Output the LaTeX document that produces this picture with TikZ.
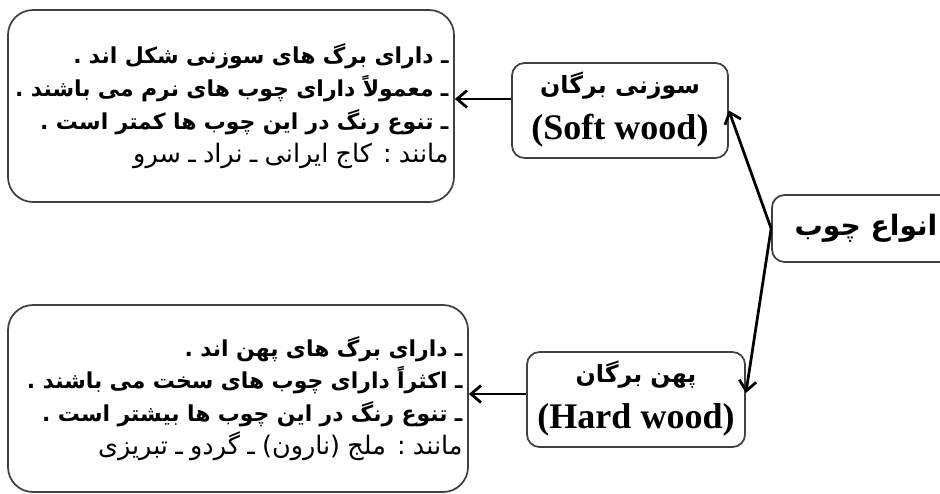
\documentclass[tikz,border=0pt]{standalone}
\usepackage{fontspec}
\setmainfont{Liberation Serif}
\newfontfamily\arabicfont[Script=Arabic]{DejaVu Sans}
\TeXXeTstate=1
\usetikzlibrary{arrows.meta}
\usetikzlibrary{calc}

\begin{document}
\begin{tikzpicture}[auto]
        \useasboundingbox (0,0) rectangle (18.8,-9.86);
        \tikzset{>={Straight Barb[length=0.2cm,width=0.34cm]}}
        \tikzstyle{every path}=[->,line width=0.055cm]
        \tikzstyle{every node}=[rectangle,fill=white,draw=black!75,text=black,line width=0.035cm,rounded corners=0.25cm,inner sep=1.5pt]
        \tikzset{listbox/.style={rounded corners=0.5cm, align=right, inner xsep=0.11cm,
          font=\arabicfont\bfseries\fontsize{12.5}{18.7}\selectfont}}
        \tikzset{kindbox/.style={align=center, font=\fontsize{20.5}{26}\selectfont}}

        \node [minimum width=3.76cm, minimum height=1.34cm, font=\arabicfont\bfseries\fontsize{16}{20}\selectfont] (n0) at (17.32,-4.57) {\beginR انواع چوب\endR};
        \node [kindbox, minimum width=4.32cm, minimum height=1.9cm, text depth=0.2cm] (n1) at (12.4,-2.21)
          {{\arabicfont\bfseries\fontsize{13.5}{26}\selectfont\beginR سوزنی برگان\endR}\\{\bfseries (Soft wood)}};
        \node [kindbox, minimum width=4.36cm, minimum height=1.9cm, text depth=0.2cm] (n2) at (12.72,-7.99)
          {{\arabicfont\bfseries\fontsize{13.5}{26}\selectfont\beginR پهن برگان\endR}\\{\bfseries (Hard wood)}};

        % left boxes
        \node [listbox, text width=8.7cm, minimum height=3.84cm] (n3) at (4.62,-2.12) {%
          \beginR ـ دارای برگ های سوزنی شکل اند .\endR\\
          \beginR ـ معمولاً دارای چوب های نرم می باشند .\endR\\
          \beginR ـ تنوع رنگ در این چوب ها کمتر است .\endR\\
          {\mdseries\fontsize{14.5}{18.7}\selectfont\beginR مانند : کاج ایرانی ـ نراد ـ سرو\endR}};
        \node [listbox, text width=8.98cm, minimum height=3.74cm] (n4) at (4.76,-7.97) {%
          \beginR ـ دارای برگ های پهن اند .\endR\\
          \beginR ـ اکثراً دارای چوب های سخت می باشند .\endR\\
          \beginR ـ تنوع رنگ در این چوب ها بیشتر است .\endR\\
          {\mdseries\fontsize{14.5}{18.7}\selectfont\beginR مانند : ملج (نارون) ـ گردو ـ تبریزی\endR}};

        \coordinate (c1) at ([yshift=0.23cm]n1.west);
        \coordinate (c2) at ([yshift=0.11cm]n2.west);
        \draw [] (n0.west) to (n1.east);
        \draw [] (n0.west) to ([yshift=0.13cm]n2.east);
        \draw [] (c1) to (c1 -| n3.east);
        \draw [] (c2) to (c2 -| n4.east);
    \end{tikzpicture}
\end{document}
